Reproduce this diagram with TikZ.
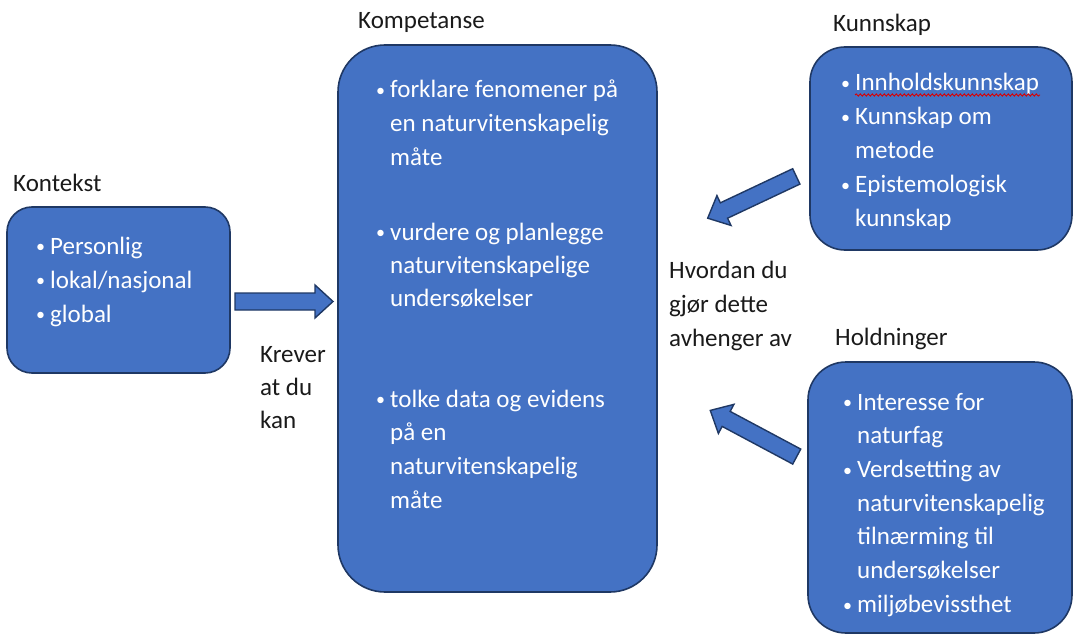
\documentclass[tikz,border=0pt]{standalone}
\usepackage{fontspec}
\setmainfont{Carlito}
\usetikzlibrary{decorations.pathmorphing}

\definecolor{boxblue}{HTML}{4472C4}
\definecolor{boxedge}{HTML}{1F3864}
\definecolor{ink}{HTML}{1A1A1A}

% one list line with a bullet, and an indented continuation line
\newcommand\itembullet{\makebox[15pt][l]{\hspace{1pt}\raisebox{1.2pt}{\scalebox{0.72}{\textbullet}}}}
\newcommand\itemcont{\hspace*{15pt}}
% lines stacked at a fixed baseline distance; baseline of the box = first line
\newcommand\linestack[2]{\vtop{\baselineskip=#1\lineskiplimit=-100pt\relax #2}}

\tikzset{
  panel/.style={rectangle, draw=boxedge, fill=boxblue, line width=1.6pt, inner sep=0pt},
  paneltext/.style={text=white, font=\fontsize{25}{30}\selectfont, anchor=base west, inner sep=0pt},
  heading/.style={text=ink, font=\fontsize{25}{30}\selectfont, anchor=base west, inner sep=0pt},
  blockarrow/.style={draw=boxedge, fill=boxblue, line width=1.4pt, line join=miter},
  squiggle/.style={draw=red!85!black, line width=0.9pt,
    decorate, decoration={snake, amplitude=1.1pt, segment length=4pt}}
}

% block arrow of length 98 pointing along +x, centred on the origin
\newcommand\arrowoutline{(-49,-8.5) -- (31,-8.5) -- (31,-16.5) -- (49,0) -- (31,16.5) -- (31,8.5) -- (-49,8.5) -- cycle}

\begin{document}
\begin{tikzpicture}[x=1pt, y=-1pt]
\useasboundingbox (0,0) rectangle (1074,634);

% ---- panels ----
\node[panel, rounded corners=25pt, minimum width=223pt, minimum height=166pt] (kontekst) at (118.5,290) {};
\node[panel, rounded corners=47pt, minimum width=319pt, minimum height=547pt] (kompetanse) at (497.5,318.5) {};
\node[panel, rounded corners=35pt, minimum width=262pt, minimum height=203pt] (kunnskap) at (941,148.5) {};
\node[panel, rounded corners=38pt, minimum width=264pt, minimum height=271pt] (holdninger) at (940,497.5) {};

% ---- headings ----
\node[heading] (hKontekst) at (13,191) {Kontekst};
\node[heading] (hKompetanse) at (358,29) {Kompetanse};
\node[heading] (hKunnskap) at (833,32) {Kunnskap};
\node[heading] (hHoldninger) at (835,345) {Holdninger};

% ---- panel contents ----
\node[paneltext] (tKontekst) at (35,254) {\linestack{34pt}{%
  \hbox{\itembullet Personlig}
  \hbox{\itembullet lokal/nasjonal}
  \hbox{\itembullet global}}};

\node[paneltext] (tKomp1) at (375,98) {\linestack{33.5pt}{%
  \hbox{\itembullet forklare fenomener på}
  \hbox{\itemcont en naturvitenskapelig}
  \hbox{\itemcont måte}}};
\node[paneltext] (tKomp2) at (375,240) {\linestack{33pt}{%
  \hbox{\itembullet vurdere og planlegge}
  \hbox{\itemcont naturvitenskapelige}
  \hbox{\itemcont undersøkelser}}};
\node[paneltext] (tKomp3) at (375,407) {\linestack{33.7pt}{%
  \hbox{\itembullet tolke data og evidens}
  \hbox{\itemcont på en}
  \hbox{\itemcont naturvitenskapelig}
  \hbox{\itemcont måte}}};

\node[paneltext] (tKunnskap) at (840,91) {\linestack{34pt}{%
  \hbox{\itembullet Innholdskunnskap}
  \hbox{\itembullet Kunnskap om}
  \hbox{\itemcont metode}
  \hbox{\itembullet Epistemologisk}
  \hbox{\itemcont kunnskap}}};
\draw[squiggle] ([xshift=15pt,yshift=-4pt]tKunnskap.base west) -- ++(185,0);

\node[paneltext] (tHoldninger) at (842,410) {\linestack{33.7pt}{%
  \hbox{\itembullet Interesse for}
  \hbox{\itemcont naturfag}
  \hbox{\itembullet Verdsetting av}
  \hbox{\itemcont naturvitenskapelig}
  \hbox{\itemcont tilnærming til}
  \hbox{\itemcont undersøkelser}
  \hbox{\itembullet miljøbevissthet}}};

% ---- free labels ----
\node[heading] (krever) at (260,362) {\linestack{33pt}{%
  \hbox{Krever}\hbox{at du}\hbox{kan}}};
\node[heading] (hvordan) at (669,278) {\linestack{34pt}{%
  \hbox{Hvordan du}\hbox{gjør dette}\hbox{avhenger av}}};

% ---- block arrows ----
\draw[blockarrow, shift={(284,301.5)}] \arrowoutline;
\draw[blockarrow, shift={(752,197.3)}, rotate=205.25] \arrowoutline;
\draw[blockarrow, shift={(753.5,433.5)}, rotate=151.9] \arrowoutline;
\end{tikzpicture}
\end{document}
